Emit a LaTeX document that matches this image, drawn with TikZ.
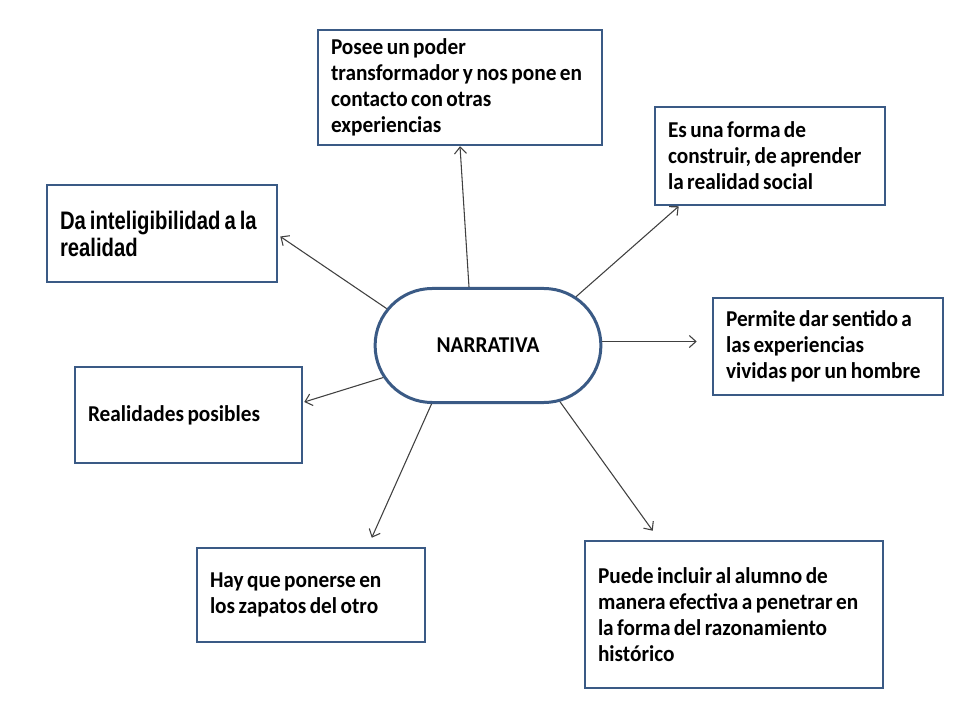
\documentclass[tikz,border=0pt]{standalone}
\usepackage{fontspec}
\setmainfont{Carlito}[FakeStretch=0.94]
\newfontfamily\arialfont{Liberation Sans}[FakeStretch=0.8]
\usetikzlibrary{shapes.misc,arrows.meta,calc}
\definecolor{boxblue}{HTML}{3A5A85}
\definecolor{arrgray}{HTML}{404040}
\newcommand\narrowsp[1]{\spaceskip=#1\relax}
\begin{document}
\begin{tikzpicture}[x=0.75pt,y=-0.75pt,
  box/.style={draw=boxblue,line width=1.9pt,fill=white,rectangle,inner xsep=9.75pt,inner ysep=0pt,
    align=left,font=\bfseries\fontsize{17}{19.5}\selectfont,
    execute at begin node={\narrowsp{2.6pt}}},
  arr/.style={draw=arrgray,line width=0.8pt,-{Straight Barb[length=5pt,width=9pt]}}]
\fill[white] (0,0) rectangle (960,720);
\useasboundingbox (0,0) rectangle (960,720);
\node[draw=boxblue,line width=2.25pt,fill=white,rounded rectangle,minimum width=176pt,minimum height=85.5pt,
  font=\bfseries\fontsize{17}{19}\selectfont] (N) at (488,345.5) {NARRATIVA};
\node[box,minimum width=213pt,minimum height=86.25pt,text width=193.5pt] (A) at (460,87.5)
  {Posee un poder\\transformador y nos pone en\\contacto con otras\\experiencias};
\node[box,minimum width=172.5pt,minimum height=73.5pt,text width=153pt] (B) at (770,156)
  {Es una forma de\\construir, de aprender\\la realidad social};
\node[box,minimum width=172.5pt,minimum height=72.75pt,text width=153pt,
  font=\arialfont\bfseries\fontsize{19}{20.25}\selectfont,
  execute at begin node={\narrowsp{3pt}}] (C) at (162,233.5)
  {Da inteligibilidad a la\\realidad};
\node[box,minimum width=172.5pt,minimum height=72.75pt,text width=153pt] (D) at (828,346.5)
  {Permite dar sentido a\\las experiencias\\vividas por un hombre};
\node[box,minimum width=170.25pt,minimum height=72pt,text width=150.75pt] (E) at (188.5,415)
  {Realidades posibles};
\node[box,minimum width=171pt,minimum height=70.5pt,text width=151.5pt] (F) at (311,595)
  {Hay que ponerse en\\los zapatos del otro};
\node[box,minimum width=223.5pt,minimum height=110.25pt,text width=204pt] (G) at (734,614.5)
  {Puede incluir al alumno de\\manera efectiva a penetrar en\\la forma del razonamiento\\histórico};
\coordinate (d3) at ($(D.west)+(-15,0)$);
\draw[arr] (N.108.6) -- (A.south);
\draw[arr] (N.29.1) -- ($(B.south west)+(25,0)$);
\draw[arr] (N.2) -- (N.2 -| d3);
\draw[arr] (N.160) -- ($(C.east)+(2,3)$);
\draw[arr] (N.197.4) -- ($(E.east)+(1,-13)$);
\draw[arr] (N.226.8) -- ($(F.north west)+(176,-9)$);
\draw[arr] (N.322.9) -- ($(G.north west)+(69,-9)$);
\end{tikzpicture}
\end{document}
